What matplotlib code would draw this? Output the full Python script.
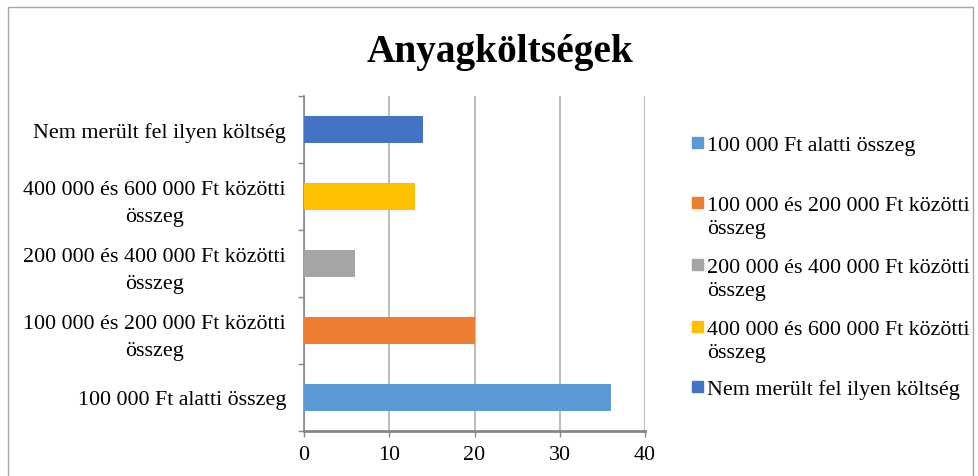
import matplotlib.pyplot as plt
from matplotlib.patches import Rectangle

# data
categories = ["100 000 Ft alatti összeg",
              "100 000 és 200 000 Ft közötti összeg",
              "200 000 és 400 000 Ft közötti összeg",
              "400 000 és 600 000 Ft közötti összeg",
              "Nem merült fel ilyen költség"]
tick_labels = ["100 000 Ft alatti összeg",
               "100 000 és 200 000 Ft közötti\nösszeg",
               "200 000 és 400 000 Ft közötti\nösszeg",
               "400 000 és 600 000 Ft közötti\nösszeg",
               "Nem merült fel ilyen költség"]
values = [36, 20, 6, 13, 14]
colors = ["#5B9BD5", "#ED7D31", "#A5A5A5", "#FFC000", "#4472C4"]
x_ticks = [0, 10, 20, 30, 40]

W, H = 979, 477
plt.rcParams['font.family'] = ['Liberation Serif', 'DejaVu Serif']
FS = 15.8

fig = plt.figure(figsize=(W / 100, H / 100), dpi=100)
ax = fig.add_axes([304 / W, 1 - 432 / H, (645 - 304) / W, (432 - 97) / H])

pos = list(range(len(values)))
ax.barh(pos, values, height=0.4, color=colors, zorder=3)
ax.set_xlim(0, 40)
ax.set_ylim(-0.5, len(values) - 0.5)
ax.set_xticks(x_ticks)
ax.set_xticklabels([str(t) for t in x_ticks], fontsize=FS)
ax.set_yticks(pos)
ax.set_yticklabels(tick_labels, fontsize=FS, multialignment='center', linespacing=1.55)
ax.set_yticks([p - 0.5 for p in range(len(values) + 1)], minor=True)
ax.tick_params(axis='y', which='major', length=0, pad=13)
ax.tick_params(axis='y', which='minor', length=4, width=1, color='#868686')
ax.tick_params(axis='x', length=4, width=1, color='#868686', pad=6)
ax.grid(axis='x', color='#BFBFBF', lw=1.5, zorder=0)
for s in ['top', 'right']:
    ax.spines[s].set_visible(False)
ax.spines['left'].set_color('#868686')
ax.spines['left'].set_linewidth(1.2)
ax.spines['bottom'].set_color('#868686')
ax.spines['bottom'].set_linewidth(2)

fig.text(500 / W, 1 - 62 / H, "Anyagköltségek", fontsize=28.4, fontweight='bold',
         ha='center', va='baseline')

# legend drawn by hand so the box sits on the first line
baselines = [151, 211, 273, 335, 395]
step = 22.7
for lab, col, b in zip(tick_labels, colors, baselines):
    fig.patches.append(Rectangle((692 / W, 1 - (b - 2) / H), 11 / W, 11 / H,
                                 transform=fig.transFigure, color=col))
    # va='baseline' puts the last line on y, so shift down for wrapped labels
    last = b + step * lab.count("\n")
    fig.text(707 / W, 1 - last / H, lab, fontsize=FS, ha='left', va='baseline',
             linespacing=1.27)

# chart area border
fig.patches.append(Rectangle((8 / W, -0.1), (973 - 8) / W, 1.1 - 8 / H,
                             transform=fig.transFigure, fill=False,
                             ec='#A6A6A6', lw=1))

fig.savefig("out.png", dpi=100)
